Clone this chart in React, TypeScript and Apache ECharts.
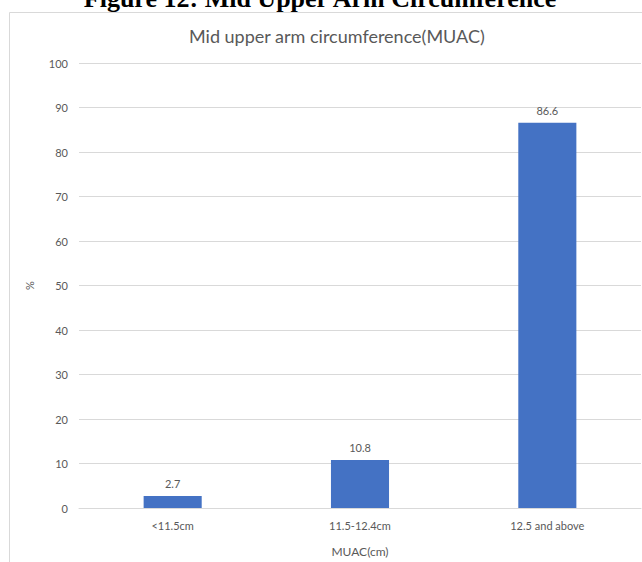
import React, { useEffect, useRef } from "react";
import * as echarts from "echarts";

const categories = ["<11.5cm", "11.5-12.4cm", "12.5 and above"];
const values = [2.7, 10.8, 86.6];
const yMin = 0;
const yMax = 100;
const yInterval = 10;

const figureTitle = "Figure 12: Mid Upper Arm Circumference";
const chartTitle = "Mid upper arm circumference(MUAC)";
const xName = "MUAC(cm)";
const yName = "%";

export default function App() {
  const ref = useRef<HTMLDivElement>(null);
  useEffect(() => {
    if (!ref.current) return;
    const chart = echarts.init(ref.current, undefined, { renderer: "svg" });
    const font = "Lato, 'Open Sans', sans-serif";
    chart.setOption({
      animation: false,
      backgroundColor: "#ffffff",
      title: {
        text: chartTitle,
        left: 184,
        top: 22,
        textStyle: { fontFamily: font, fontSize: 18, fontWeight: "normal", color: "#595959" },
      },
      graphic: [
        {
          type: "rect",
          shape: { x: 9.5, y: 12.5, width: 650, height: 600 },
          style: { fill: "none", stroke: "#d9d9d9", lineWidth: 1 },
          z: 0,
        },
        {
          type: "text",
          left: "center",
          top: -15,
          style: {
            text: figureTitle,
            font: "bold 26px 'Liberation Serif', 'Times New Roman', serif",
            fill: "#000000",
          },
          z: 10,
        },
      ],
      grid: { left: 79, right: 1, top: 63, bottom: 54, containLabel: false },
      xAxis: {
        type: "category",
        data: categories,
        name: xName,
        nameLocation: "middle",
        nameGap: 37,
        nameTextStyle: { fontFamily: font, fontSize: 12, color: "#595959" },
        axisLine: { lineStyle: { color: "#d9d9d9" } },
        axisTick: { show: false },
        axisLabel: { fontFamily: font, fontSize: 11, color: "#595959", margin: 12 },
      },
      yAxis: {
        type: "value",
        min: yMin,
        max: yMax,
        interval: yInterval,
        name: yName,
        nameLocation: "middle",
        nameGap: 44,
        nameRotate: 90,
        nameTextStyle: { fontFamily: font, fontSize: 11, color: "#595959" },
        axisLine: { show: false },
        axisTick: { show: false },
        axisLabel: { fontFamily: font, fontSize: 11, color: "#595959", margin: 11 },
        splitLine: { lineStyle: { color: "#d9d9d9" } },
      },
      series: [
        {
          type: "bar",
          data: values,
          barWidth: "31%",
          itemStyle: { color: "#4472C4" },
          label: {
            show: true,
            position: "top",
            distance: 7,
            fontFamily: font,
            fontSize: 11,
            color: "#595959",
          },
        },
      ],
    });
    return () => chart.dispose();
  }, []);
  return (
    <div
      ref={ref}
      style={{ position: "fixed", left: 0, top: 0, width: 642, height: 562 }}
    />
  );
}
